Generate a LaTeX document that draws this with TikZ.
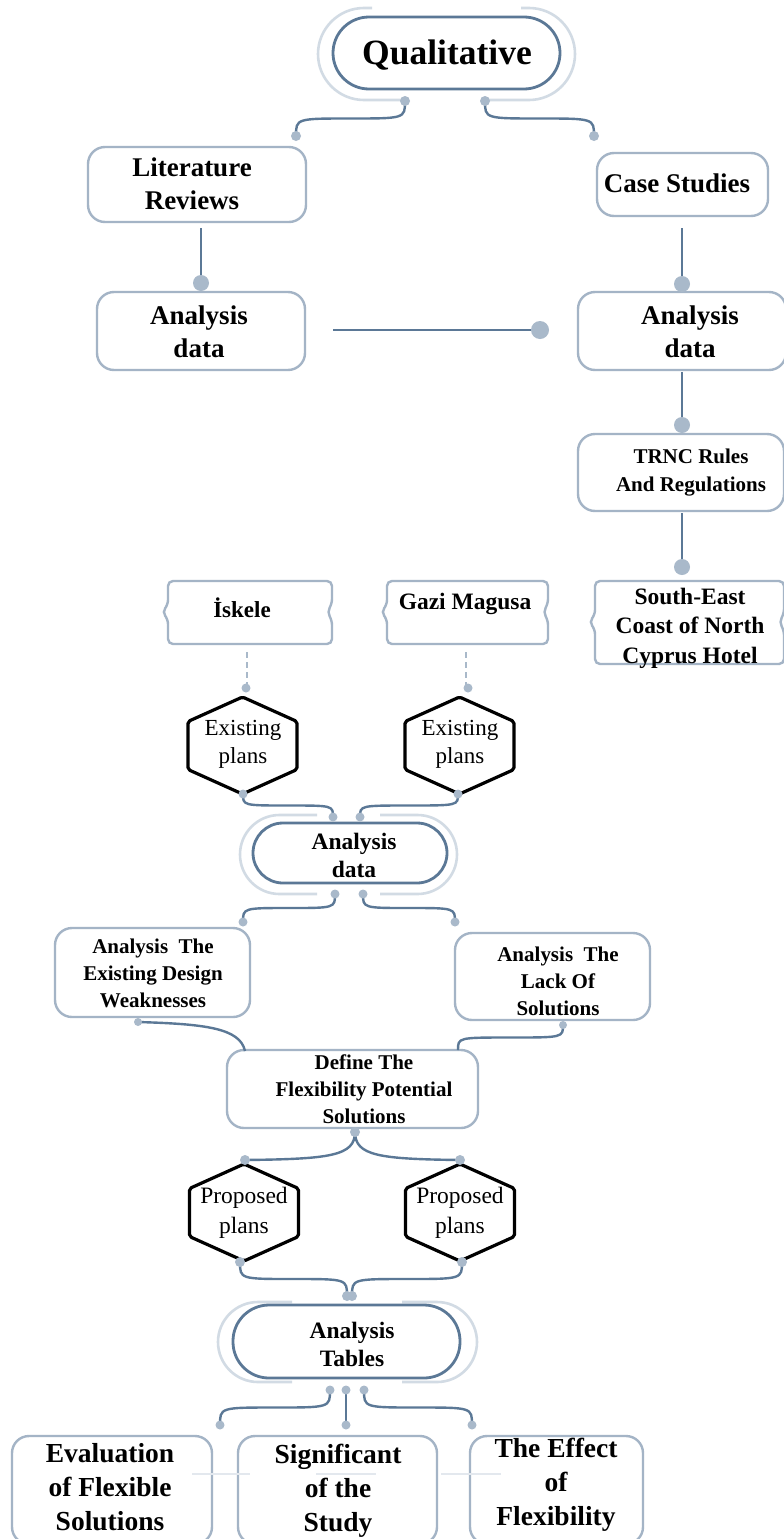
\documentclass[tikz,border=0pt]{standalone}
\usepackage{fontspec}
\setmainfont{Liberation Serif}
\usetikzlibrary{calc}
\definecolor{darkc}{HTML}{5B7896}
\definecolor{boxc}{HTML}{A4B4C6}
\definecolor{palec}{HTML}{D2DBE4}
\definecolor{dotc}{HTML}{A9B9CA}
\definecolor{faintc}{HTML}{E3E8EE}
\newcommand\sconn[2]{\path ($(#1)!0.5!(#2)$) coordinate (smid); \draw[link] (#1) .. controls (#1 |- smid) .. (smid) .. controls (#2 |- smid) .. (#2);}
\newcommand\tagpath[5]{\draw[box, rounded corners=5pt] ({(#1+#3)/2},#2) -- (#3,#2) -- (#3,{#5-8}) -- ({#3-5},#5) -- (#3,{#5+8}) -- (#3,#4) -- (#1,#4) -- (#1,{#5+7}) -- ({#1-6},#5) -- (#1,{#5-7}) -- (#1,#2) -- cycle;}
\newcommand\hexa[2]{\draw[hexline] ({#1},{#2-48.5}) -- ({#1+54.5},{#2-24}) -- ({#1+54.5},{#2+24}) -- ({#1},{#2+48.5}) -- ({#1-54.5},{#2+24}) -- ({#1-54.5},{#2-24}) -- cycle;}
\begin{document}
\begin{tikzpicture}[x=1pt,y=-1pt,
  box/.style={draw=boxc, line width=2.4pt, rounded corners=17pt, fill=white, inner sep=0},
  pill/.style={draw=darkc, line width=2.8pt, fill=white, inner sep=0},
  pale/.style={draw=palec, line width=2.6pt},
  link/.style={draw=darkc, line width=2.4pt},
  dashlink/.style={draw=dotc, line width=1.8pt, dash pattern=on 6pt off 4pt},
  hexline/.style={draw=black, line width=3.2pt, rounded corners=2pt, line join=round},
  tb/.style={align=center, inner sep=0, text=black},
  dotbig/.style={fill=dotc},
]
\fill[white] (0,0) rectangle (784,1539);
\useasboundingbox (0,0) rectangle (784,1539);

% ---------- pale outer rings ----------
\draw[pale] (403,100) -- (364,100) arc[start angle=90,end angle=270,radius=46] -- (372,8);
\draw[pale] (487,100) -- (529,100) arc[start angle=90,end angle=-90,radius=46] -- (521,8);
\draw[pale] (317,815) -- (279.5,815) arc[start angle=270,end angle=90,radius=39.5] -- (317,894);
\draw[pale] (380,815) -- (417.5,815) arc[start angle=-90,end angle=90,radius=39.5] -- (380,894);
\draw[pale] (292,1302) -- (258,1302) arc[start angle=270,end angle=90,radius=40] -- (292,1382);
\draw[pale] (402,1302) -- (437,1302) arc[start angle=-90,end angle=90,radius=40] -- (402,1382);

% ---------- pills ----------
\node[pill, minimum width=227, minimum height=72, rounded corners=36] (qual) at (446.5,53) {};
\node[pill, minimum width=194, minimum height=60, rounded corners=30] (midp) at (350,853) {};
\node[pill, minimum width=227, minimum height=73, rounded corners=36] (tabp) at (346.5,1341.5) {};

% ---------- boxes ----------
\node[box, minimum width=218, minimum height=75] (lit) at (197,184.5) {};
\node[box, minimum width=171, minimum height=63] (cs) at (682.5,184.5) {};
\node[box, minimum width=208, minimum height=78] (ad1) at (201,331) {};
\node[box, minimum width=208, minimum height=78] (ad2) at (682,331) {};
\node[box, minimum width=206, minimum height=77] (trnc) at (681,472.5) {};
\node[box, minimum width=195, minimum height=89] (weak) at (152.5,972.5) {};
\node[box, minimum width=195, minimum height=87] (lack) at (552.5,976.5) {};
\node[box, minimum width=251, minimum height=78] (def) at (352.5,1089) {};
\node[box, minimum width=200, minimum height=108] (eval) at (112,1490) {};
\node[box, minimum width=199, minimum height=108] (sig) at (337.5,1490) {};
\node[box, minimum width=173, minimum height=108] (eff) at (556.5,1490) {};

% tag shapes
\tagpath{168}{581}{332}{644}{612}
\tagpath{387}{581}{548}{644}{612}
\tagpath{595}{581}{784}{664}{622}

% hexagons
\hexa{242.5}{745.5}
\hexa{459.5}{745.5}
\hexa{244}{1212.5}
\hexa{460}{1212.5}

% faint lines in bottom boxes
\draw[faintc, line width=1.5pt] (192,1474) -- (250,1474);
\draw[faintc, line width=1.5pt] (316,1474) -- (376,1474);
\draw[faintc, line width=1.5pt] (441,1474) -- (501,1474);

% ---------- connector points ----------
\coordinate (q1) at (405,101);
\coordinate (q2) at (485,101);
\coordinate (litin) at (296,136);
\coordinate (csin) at (594,136);
\coordinate (litout) at (201,228);
\coordinate (ad1in) at (201,283);
\coordinate (csout) at (682,228);
\coordinate (ad2in) at (682,284);
\coordinate (ad1out) at (333,330);
\coordinate (ad2side) at (540,330);
\coordinate (ad2out) at (682,372);
\coordinate (trncin) at (682,425);
\coordinate (trncout) at (682,513);
\coordinate (sein) at (682,567);
\coordinate (iskout) at (247,652);
\coordinate (ex1in) at (246,688);
\coordinate (gazout) at (466,652);
\coordinate (ex2in) at (468,688);
\coordinate (ex1out) at (243,794);
\coordinate (ex2out) at (458,794);
\coordinate (m1) at (333,817);
\coordinate (m2) at (360,817);
\coordinate (m3) at (335,894);
\coordinate (m4) at (363,894);
\coordinate (weakin) at (243,922);
\coordinate (lackin) at (455,922);
\coordinate (weakout) at (138,1022);
\coordinate (lackout) at (563,1025);
\coordinate (defin1) at (245,1051);
\coordinate (defin2) at (458,1050);
\coordinate (defout) at (355,1132);
\coordinate (pp1in) at (245,1160);
\coordinate (pp2in) at (460,1160);
\coordinate (pp1out) at (240,1262);
\coordinate (pp2out) at (462,1262);
\coordinate (t1) at (347,1296);
\coordinate (t2) at (352,1296);
\coordinate (b1) at (330,1390);
\coordinate (b2) at (346,1390);
\coordinate (b3) at (364,1390);
\coordinate (evalin) at (220,1425);
\coordinate (sigin) at (346,1425);
\coordinate (effin) at (472,1425);

% ---------- connectors ----------
\sconn{q1}{litin}
\sconn{q2}{csin}
\draw[link] (litout) -- (ad1in);
\draw[link] (csout) -- (ad2in);
\draw[link] (ad1out) -- (ad2side);
\draw[link] (ad2out) -- (trncin);
\draw[link] (trncout) -- (sein);
\draw[dashlink] (iskout) -- (iskout |- ex1in);
\draw[dashlink] (gazout) -- (gazout |- ex2in);
\sconn{ex1out}{m1}
\sconn{ex2out}{m2}
\sconn{m3}{weakin}
\sconn{m4}{lackin}
\draw[link] (weakout) .. controls (205,1024) and (240,1028) .. (defin1);
\sconn{lackout}{defin2}
\draw[link] (defout) .. controls (355,1156) and (330,1159) .. (pp1in);
\draw[link] (defout) .. controls (355,1156) and (380,1159) .. (pp2in);
\sconn{pp1out}{t1}
\sconn{pp2out}{t2}
\sconn{b1}{evalin}
\draw[link] (b2) -- (sigin);
\sconn{b3}{effin}

% ---------- dots ----------
\foreach \p/\r in {q1/5,q2/5,litin/5,csin/5,ad1in/8,ad2in/8,ad2side/9,trncin/8,sein/8,
  ex1in/4.5,ex2in/4.5,ex1out/4.5,ex2out/4.5,m1/4.5,m2/4.5,m3/4.5,m4/4.5,weakin/4.5,lackin/4.5,
  weakout/4,lackout/4,defout/5,pp1in/5,pp2in/5,pp1out/5,pp2out/5,t1/5,t2/5,
  b1/4.5,b2/4.5,b3/4.5,evalin/4.5,sigin/4.5,effin/4.5}
  \fill[dotbig] (\p) circle[radius=\r];

% ---------- texts ----------
\node[tb, font=\fontsize{35.5}{40}\selectfont\bfseries] (tq) at (447,55) {Qualitative};
\node[tb, font=\fontsize{27}{33}\selectfont\bfseries] (tlit) at (192,184) {Literature\\Reviews};
\node[tb, font=\fontsize{27}{33}\selectfont\bfseries] (tcs) at (677,183) {Case Studies};
\node[tb, font=\fontsize{27}{33}\selectfont\bfseries] (tad1) at (199,332) {Analysis\\data};
\node[tb, font=\fontsize{27}{33}\selectfont\bfseries] (tad2) at (690,332) {Analysis\\data};
\node[tb, font=\fontsize{21}{28}\selectfont\bfseries] (ttrnc) at (691,473) {TRNC Rules\\And Regulations};
\node[tb, font=\fontsize{23.5}{29.5}\selectfont\bfseries] (tse) at (690,628) {South-East\\Coast of North\\Cyprus Hotel};
\node[tb, font=\fontsize{23}{28}\selectfont\bfseries] (tisk) at (242,608) {İskele};
\node[tb, font=\fontsize{23.5}{28}\selectfont\bfseries] (tgaz) at (465,604) {Gazi Magusa};
\node[tb, font=\fontsize{23}{28}\selectfont] (tex1) at (243,744) {Existing\\plans};
\node[tb, font=\fontsize{23}{28}\selectfont] (tex2) at (460,744) {Existing\\plans};
\node[tb, font=\fontsize{23.5}{28}\selectfont\bfseries] (tmid) at (354,855) {Analysis\\data};
\node[tb, font=\fontsize{21}{27}\selectfont\bfseries] (tweak) at (153,973) {Analysis~ The\\Existing Design\\Weaknesses};
\node[tb, font=\fontsize{21}{27}\selectfont\bfseries] (tlack) at (558,981) {Analysis~ The\\Lack Of\\Solutions};
\node[tb, font=\fontsize{21}{27}\selectfont\bfseries] (tdef) at (364,1089) {Define The\\Flexibility Potential\\Solutions};
\node[tb, font=\fontsize{23.5}{30}\selectfont] (tpp1) at (244,1213) {Proposed\\plans};
\node[tb, font=\fontsize{23.5}{30}\selectfont] (tpp2) at (460,1213) {Proposed\\plans};
\node[tb, font=\fontsize{23.5}{28}\selectfont\bfseries] (ttab) at (352,1344) {Analysis\\Tables};
\node[tb, font=\fontsize{27.5}{34}\selectfont\bfseries] (teval) at (110,1487) {Evaluation\\of Flexible\\Solutions};
\node[tb, font=\fontsize{27.5}{34}\selectfont\bfseries] (tsig) at (338,1491) {Significant\\of the\\Study};
\node[tb, font=\fontsize{27.5}{34}\selectfont\bfseries] (teff) at (556,1485) {The Effect\\of\\Flexibility};
\end{tikzpicture}
\end{document}
